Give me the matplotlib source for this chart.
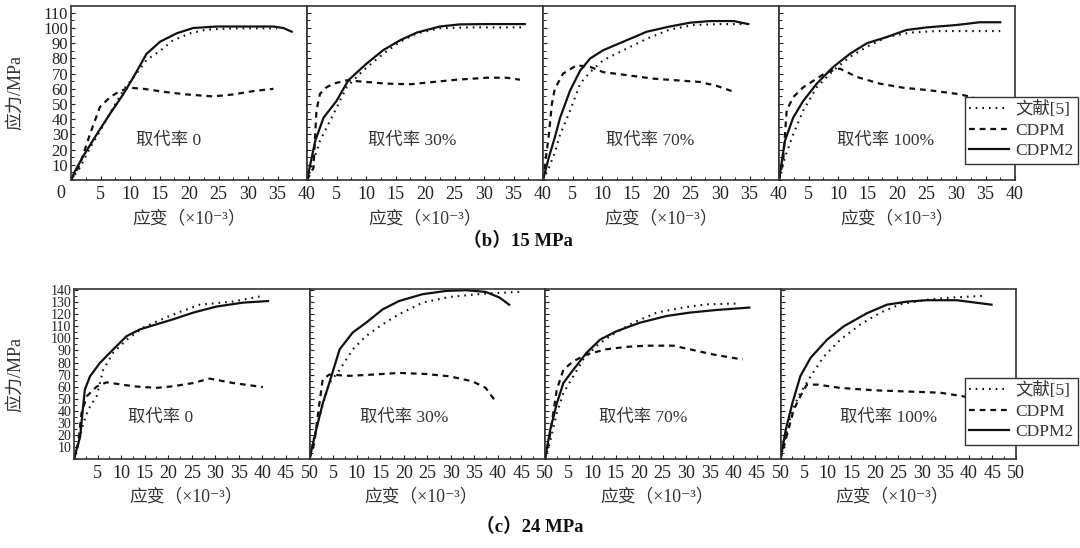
import matplotlib.pyplot as plt
from matplotlib.ticker import MultipleLocator
from matplotlib.lines import Line2D

plt.rcParams['font.family'] = ['Liberation Serif', 'Noto Sans CJK SC', 'DejaVu Serif']
plt.rcParams['axes.unicode_minus'] = False

rates = ['取代率 0', '取代率 30%', '取代率 70%', '取代率 100%']
names = ['文献[5]', 'CDPM', 'CDPM2']

# (b) 15 MPa -- strain (x10^-3) and stress (MPa), one list per panel
b_ref_e = [[0, 1.5, 3.2, 4.9, 7.2, 9.2, 11.1, 12.8, 15.1, 17.3, 20.2, 23, 27.5, 34.9],
           [0, 1.1, 2.2, 4.5, 6.7, 9.5, 12.9, 15.8, 18.6, 22.5, 27, 36.7],
           [0, 1, 2, 2.9, 4.6, 6.3, 8, 10.2, 14.2, 17.6, 21.5, 25.5, 30, 34.8],
           [0, 1, 2.4, 4.1, 6.4, 9.2, 12, 14.9, 18.2, 22.2, 26.7, 37.5]]
b_ref_s = [[0, 8, 21, 32, 48, 61, 70, 79, 85, 92, 96.5, 99, 99.8, 99.8],
           [0, 12.6, 25.8, 43.5, 61, 72, 83, 91, 96.5, 99.8, 100.4, 100.4],
           [0, 8, 18, 30, 45.7, 63.4, 71, 78.8, 86.5, 93, 99, 102, 102.6, 102.6],
           [0, 14.8, 30, 45.7, 61, 72, 81, 87.6, 94, 97, 98, 98]]
b_cdpm_e = [[0, 1.5, 3.2, 4.9, 6.6, 8.3, 10, 12.3, 16.2, 19.6, 24.1, 27.5, 30.9, 34.3],
            [0, 1.1, 1.6, 2.2, 3.3, 4.5, 6.7, 10.1, 13.5, 17.5, 21.4, 25.4, 30.5, 33.8, 36.1],
            [0, 1, 1.5, 2, 3.4, 5.7, 8, 10.2, 14.2, 18.7, 22.6, 26.6, 29.4, 32],
            [0, 0.7, 1.3, 2.4, 4.1, 6.4, 8.1, 10.3, 13.2, 17.1, 21.1, 25.6, 30.1, 32.9]]
b_cdpm_s = [[0, 10, 30, 48, 54.5, 58.5, 60.7, 60, 57.8, 56.3, 55, 56.3, 58.5, 60],
            [0, 8, 45.7, 56.7, 61, 63.4, 65.6, 64.5, 63.4, 63, 64.5, 66, 67.3, 67.3, 66],
            [0, 30, 50, 60, 70, 75.5, 74.4, 71, 69, 66.7, 65.6, 64.5, 62, 58.5],
            [0, 12.6, 45.7, 54.5, 61, 66.7, 71, 73.3, 67.8, 63.4, 60.7, 59, 56.7, 54.5]]
b_cdpm2_e = [[0, 0.7, 2.1, 4.35, 6.6, 8.9, 10.6, 12.8, 15.1, 17.9, 20.7, 24.7, 30.3, 34.3, 36, 37.4],
             [0, 1.4, 2.8, 5, 7, 10.1, 12.9, 15.8, 18.6, 22.5, 25.9, 30.5, 36.9],
             [0, 1, 2, 2.9, 4.6, 6.3, 8, 10.2, 14.2, 17.6, 21.5, 24.9, 28.3, 32.3, 34.8],
             [0, 1, 2.4, 4.1, 6.4, 9.2, 12, 14.9, 18.2, 21.6, 25, 30.1, 34, 37.5]]
b_cdpm2_s = [[0, 6, 15.9, 30, 43.5, 56.7, 67.8, 83, 91, 96.5, 100, 101, 101, 101, 100, 97.6],
             [0, 25.8, 41, 52, 65.6, 76.6, 85.4, 92, 97, 101, 102.4, 102.6, 102.6],
             [0, 15, 28, 41, 59, 72, 80, 85.4, 92, 97.6, 101, 103.5, 104.6, 104.6, 102.6],
             [0, 25.8, 41, 52, 63.4, 74.4, 83, 90, 94, 98.7, 100.4, 102, 103.8, 103.8]]

# (c) 24 MPa
c_ref_e = [[0, 0.9, 2, 3, 4.8, 6.2, 8.3, 11.2, 14.7, 17.5, 21.8, 26.7, 33.8, 40.1],
           [0, 1, 2.5, 4.2, 6.4, 9.2, 12, 15.5, 19, 24, 29.7, 36.7, 44.5],
           [0, 1, 2.5, 3.9, 6, 8.1, 10.9, 13.8, 18.7, 23.7, 29.3, 34.3, 41.3],
           [0, 1.1, 2.5, 4.2, 6.4, 9.2, 12.7, 17, 21.2, 25.4, 31.8, 36.7, 43]]
c_ref_s = [[0, 13, 29.7, 40.8, 52, 74, 88, 99, 109, 114, 121, 128, 130.6, 135.3],
           [0, 18.6, 40.8, 63, 74, 91, 102, 111.7, 120, 129.7, 134.4, 137, 138.6],
           [0, 13, 38, 54.7, 68.6, 82.5, 93.6, 102, 113, 121.4, 125.6, 128.3, 129],
           [0, 18.6, 40.8, 54.7, 68.6, 85, 99, 111.7, 121.4, 128.3, 132.5, 134, 135.3]]
c_cdpm_e = [[0, 0.9, 1.6, 2.7, 4.8, 6.9, 12.6, 17.5, 21, 25.3, 28.8, 33.8, 40.1],
            [0, 1, 2.1, 2.8, 4.2, 8.5, 13.4, 19, 24.7, 29.7, 34.6, 37.4, 39.5],
            [0, 1, 2.5, 3.9, 6, 8.8, 13, 17.3, 21.5, 27.2, 30.7, 35.7, 42],
            [0, 1.1, 2.8, 4.2, 5.6, 7.8, 12.7, 19.8, 26.8, 33.9, 38.8, 41.7]]
c_cdpm_s = [[0, 13, 38, 52, 60, 63.6, 60.3, 59, 60.3, 63, 66.7, 63, 59.7],
            [0, 13, 46, 66, 70, 69, 70, 71.4, 70.5, 68.6, 64.4, 59, 47.8],
            [0, 18.6, 57.5, 74, 81, 86.7, 91, 93, 94, 94, 91, 86.7, 82.5],
            [0, 16, 40.8, 52, 61.7, 61.7, 59, 57, 56, 55, 52, 49]]
c_cdpm2_e = [[0, 1.3, 2.3, 3.4, 5.5, 8.3, 11.2, 14, 17.5, 21, 25.3, 30.2, 35.9, 41.2],
             [0, 1.4, 2.8, 4.2, 6.4, 9.2, 12, 15.5, 19, 24, 29, 33.2, 37.4, 40.3, 42.4],
             [0, 1.1, 2.5, 3.9, 6, 8.8, 11.7, 15.2, 20.1, 25.8, 30.7, 36.4, 43.4],
             [0, 1.1, 2.5, 4.2, 6.4, 9.9, 13.4, 18.4, 22.6, 26.8, 31, 37.4, 44.8]]
c_cdpm2_s = [[0, 18.6, 57.5, 68.6, 79.7, 90.8, 102, 107.5, 111.7, 115.8, 121.4, 126.4, 129.7, 131],
             [0, 24, 46, 63, 91, 105, 113, 124, 131, 136.7, 139.4, 140, 138.6, 134, 128],
             [0, 24, 46, 63, 74, 88, 99, 106, 113, 118.6, 121.4, 123.6, 125.6],
             [0, 24, 46, 68.6, 84, 99, 110, 121, 128, 130.5, 131.7, 131.7, 128]]

W, H = 1080, 548
fig = plt.figure(figsize=(W / 100, H / 100), dpi=100)

dot = dict(color='#111', lw=1.5, ls=(0, (0.8, 2.4)))
dash = dict(color='#111', lw=1.6, ls=(0, (2.6, 2.2)))
solid = dict(color='#111', lw=1.6, ls='-')
ink = '#222'


def draw_row(left, top, bottom, width, xmax, ymax, yticks, ref, cdpm, cdpm2, txt_xy, ysize):
    axes = []
    for i in range(4):
        ax = fig.add_axes([(left + width * i) / W, 1 - bottom / H, width / W, (bottom - top) / H])
        ax.plot(ref[0][i], ref[1][i], **dot)
        ax.plot(cdpm[0][i], cdpm[1][i], **dash)
        ax.plot(cdpm2[0][i], cdpm2[1][i], **solid)
        ax.set_xlim(0, xmax)
        ax.set_ylim(0, ymax)
        ax.set_xticks(range(5, xmax + 1, 5))
        ax.set_yticks(yticks)
        ax.xaxis.set_minor_locator(MultipleLocator(2.5))
        ax.yaxis.set_minor_locator(MultipleLocator(5))
        ax.tick_params(which='major', direction='in', length=3, width=0.8, colors=ink,
                       labelsize=13, pad=4)
        ax.tick_params(which='minor', direction='in', length=2, width=0.7, colors=ink)
        ax.tick_params(axis='y', pad=2, labelsize=ysize)
        if i > 0:
            ax.tick_params(axis='y', labelleft=False)
        for s in ax.spines.values():
            s.set_color('#333')
            s.set_linewidth(1.2)
        ax.text(txt_xy[i][0], txt_xy[i][1], rates[i], ha='center', va='center',
                fontsize=12.5, color='#333')
        axes.append(ax)
    return axes


top_axes = draw_row(71, 6, 180, 236, 40, 114.5, range(10, 111, 10),
                    (b_ref_e, b_ref_s), (b_cdpm_e, b_cdpm_s), (b_cdpm2_e, b_cdpm2_s),
                    [(16.6, 26), (17.8, 26), (18.1, 26), (18, 26)], 12)
bot_axes = draw_row(74, 289, 459, 235.5, 50, 141, range(10, 141, 10),
                    (c_ref_e, c_ref_s), (c_cdpm_e, c_cdpm_s), (c_cdpm2_e, c_cdpm2_s),
                    [(18.4, 34), (20, 34), (20.8, 34), (23, 34)], 10)

# origin label of the upper row
fig.text(61 / W, 1 - 193 / H, '0', ha='center', va='center', fontsize=13, color=ink)

# axis labels
xlab = '应变（×10⁻³）'
for i in range(4):
    fig.text((71 + 236 * (i + 0.5)) / W, 1 - 219 / H, xlab, ha='center', va='center',
             fontsize=12.8, color='#333')
    fig.text((74 + 235.5 * (i + 0.5) - 6) / W, 1 - 497 / H, xlab, ha='center', va='center',
             fontsize=12.8, color='#333')
fig.text(16 / W, 1 - 93 / H, '应力/MPa', rotation=90, ha='center', va='center',
         fontsize=13, color='#333')
fig.text(16 / W, 1 - 375 / H, '应力/MPa', rotation=90, ha='center', va='center',
         fontsize=13, color='#333')

# row captions
fig.text(518 / W, 1 - 241 / H, '（b）15 MPa', ha='center', va='center', fontsize=13.5,
         fontweight='bold', color='#111')
fig.text(530 / W, 1 - 527 / H, '（c）24 MPa', ha='center', va='center', fontsize=13.5,
         fontweight='bold', color='#111')

handles = [Line2D([], [], **dot), Line2D([], [], **dash), Line2D([], [], **solid)]
for ytop in [97, 378]:
    leg = fig.legend(handles, names, loc='upper left', bbox_to_anchor=(965 / W, 1 - ytop / H),
                     fontsize=12.5, frameon=True, fancybox=False, framealpha=1,
                     edgecolor='#333', borderpad=0.25, handlelength=2.3, handletextpad=0.35,
                     labelspacing=0.25, borderaxespad=0)
    leg.get_frame().set_linewidth(1.0)
    for t in leg.get_texts():
        t.set_color('#333')

fig.savefig('out.png', dpi=100)
